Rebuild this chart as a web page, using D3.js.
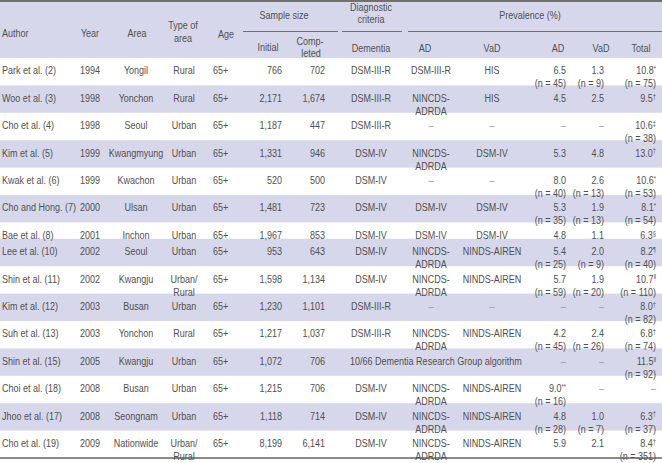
<!DOCTYPE html>
<html lang="en">
<head>
<meta charset="UTF-8">
<title>Prevalence of dementia in Korea</title>
<script src="https://d3js.org/d3.v7.min.js"></script>
<style>
    body { margin: 0; background: #fff; }
    svg text {
        font-family: "Liberation Sans Narrow", "Liberation Sans", Arial, sans-serif;
        font-size: 11px;
        fill: #505050;
    }
    svg text.dash { fill: #9a9a9a; }
</style>
</head>
<body>
<svg id="tbl"></svg>
<script>
    const width = 662, height = 463;

    // table contents, one array per column
    const authors = ["Park et al. (2)", "Woo et al. (3)", "Cho et al. (4)", "Kim et al. (5)", "Kwak et al. (6)",
        "Cho and  Hong. (7)", "Bae et al. (8)", "Lee et al. (10)", "Shin et al.  (11)", "Kim et al. (12)",
        "Suh et al. (13)", "Shin et al. (15)", "Choi et al.  (18)", "Jhoo et al. (17)", "Cho et al. (19)"];
    const years = [1994, 1998, 1998, 1999, 1999, 2000, 2001, 2002, 2002, 2003, 2003, 2005, 2008, 2008, 2009];
    const areas = ["Yongil", "Yonchon", "Seoul", "Kwangmyung", "Kwachon", "Ulsan", "Inchon", "Seoul", "Kwangju",
        "Busan", "Yonchon", "Kwangju", "Busan", "Seongnam", "Nationwide"];
    const areaTypes = ["Rural", "Rural", "Urban", "Urban", "Urban", "Urban", "Urban", "Urban", "Urban/\nRural",
        "Urban", "Rural", "Urban", "Urban", "Urban", "Urban/\nRural"];
    const ages = ["65+", "65+", "65+", "65+", "65+", "65+", "65+", "65+", "65+", "65+", "65+", "65+", "65+", "65+", "65+"];
    const initialN = [766, 2171, 1187, 1331, 520, 1481, 1967, 953, 1598, 1230, 1217, 1072, 1215, 1118, 8199];
    const completedN = [702, 1674, 447, 946, 500, 723, 853, 643, 1134, 1101, 1037, 706, 706, 714, 6141];
    const dementiaCrit = ["DSM-III-R", "DSM-III-R", "DSM-III-R", "DSM-IV", "DSM-IV", "DSM-IV", "DSM-IV", "DSM-IV",
        "DSM-IV", "DSM-III-R", "DSM-III-R", "10/66 Dementia Research Group algorithm", "DSM-IV", "DSM-IV", "DSM-IV"];
    const adCrit = ["DSM-III-R", "NINCDS-\nADRDA", "–", "NINCDS-\nADRDA", "–", "DSM-IV", "DSM-IV", "NINCDS-\nADRDA",
        "NINCDS-\nADRDA", "–", "NINCDS-\nADRDA", null, "NINCDS-\nADRDA", "NINCDS-\nADRDA", "NINCDS-\nADRDA"];
    const vadCrit = ["HIS", "HIS", "–", "DSM-IV", "–", "DSM-IV", "DSM-IV", "NINDS-AIREN", "NINDS-AIREN", "–",
        "NINDS-AIREN", null, "NINDS-AIREN", "NINDS-AIREN", "NINDS-AIREN"];
    const adPrev = [6.5, 4.5, null, 5.3, 8.0, 5.3, 4.8, 5.4, 5.7, null, 4.2, null, 9.0, 4.8, 5.9];
    const adCases = [45, null, null, null, 40, 35, null, 25, 59, null, 45, null, 16, 28, null];
    const adMarks = ["", "", "", "", "", "", "", "", "", "", "", "", "**", "", ""];
    const vadPrev = [1.3, 2.5, null, 4.8, 2.6, 1.9, 1.1, 2.0, 1.9, null, 2.4, null, null, 1.0, 2.1];
    const vadCases = [9, null, null, null, 13, 13, null, 9, 20, null, 26, null, null, 7, null];
    const totalPrev = [10.8, 9.5, 10.6, 13.0, 10.6, 8.1, 6.3, 8.2, 10.7, 8.0, 6.8, 11.5, null, 6.3, 8.4];
    const totalCases = [75, null, 38, null, 53, 54, null, 40, 110, 82, 74, 92, null, 37, 351];
    const totalMarks = ["*", "†", "‡", "†", "*", "*", "§", "¶", "‖", "†", "†", "‖", "", "†", "†"];

    const fmtN = d3.format(","), fmtP = d3.format(".1f");
    const dash = "–";
    const squeeze = 0.82; // the original face is a condensed one

    // each cell: list of lines, each line {t, sup}
    function plain(s) {
        return s == null ? null : String(s).split("\n").map(t => ({ t, sup: "" }));
    }
    function prev(v, n, mark) {
        if (v == null) return [{ t: dash, sup: "" }];
        const out = [{ t: fmtP(v), sup: mark || "" }];
        if (n != null) out.push({ t: `(n = ${n})`, sup: "" });
        return out;
    }

    const rows = authors.map((a, i) => ({
        band: i % 2 === 1,
        cells: {
            author: plain(a),
            year: plain(years[i]),
            area: plain(areas[i]),
            type: plain(areaTypes[i]),
            age: plain(ages[i]),
            initial: plain(fmtN(initialN[i])),
            completed: plain(fmtN(completedN[i])),
            dementia: plain(dementiaCrit[i]),
            adCrit: plain(adCrit[i]),
            vadCrit: plain(vadCrit[i]),
            adPrev: prev(adPrev[i], adCases[i], adMarks[i]),
            vadPrev: prev(vadPrev[i], vadCases[i], ""),
            total: prev(totalPrev[i], totalCases[i], totalMarks[i])
        },
        span: adCrit[i] == null && vadCrit[i] == null
    }));
    rows.forEach(r => r.lines = d3.max(Object.values(r.cells), c => c ? c.length : 0));

    const cols = {
        author: { x: 2, anchor: "start" },
        year: { x: 90, anchor: "middle" },
        area: { x: 136, anchor: "middle" },
        type: { x: 184, anchor: "middle" },
        age: { x: 213, anchor: "start" },
        initial: { x: 282, anchor: "end" },
        completed: { x: 325, anchor: "end" },
        dementia: { x: 371, anchor: "middle" },
        adCrit: { x: 431, anchor: "middle" },
        vadCrit: { x: 492, anchor: "middle" },
        adPrev: { x: 566, anchor: "end" },
        vadPrev: { x: 604, anchor: "end" },
        total: { x: 656, anchor: "end" }
    };

    const headTop = 0, headBottom = 58, tableBottom = 458;
    const rowH = d3.scaleLinear().domain([1, 2]).range([16.4, 27.4]);
    let yAcc = headBottom;
    rows.forEach(r => { r.y = yAcc; r.h = rowH(r.lines); yAcc += r.h; });

    const bandFill = "#d7d7eb";
    const svg = d3.select("#tbl").attr("width", width).attr("height", height);

    function label(g, s, x, y, anchor, sup) {
        const t = g.append("text")
            .attr("class", s === dash ? "dash" : null)
            .attr("transform", `translate(${x},${y}) scale(${squeeze},1)`)
            .attr("dy", "0.35em")
            .attr("text-anchor", anchor);
        t.append("tspan").text(s);
        if (sup) t.append("tspan").attr("dy", "-0.45em").style("font-size", "7px").text(sup);
        return t;
    }

    // header
    svg.append("rect").attr("x", 0).attr("y", headTop).attr("width", width).attr("height", headBottom - headTop)
        .attr("fill", bandFill);

    // body bands
    svg.selectAll(".band").data(rows.filter(r => r.band)).enter().append("rect")
        .attr("x", 0).attr("y", d => d.y).attr("width", width).attr("height", d => d.h)
        .attr("fill", bandFill);

    // rules
    svg.append("line").attr("x1", 0).attr("x2", width).attr("y1", 1).attr("y2", 1)
        .attr("stroke", "#707070").attr("stroke-width", 2);
    svg.append("line").attr("x1", 0).attr("x2", width).attr("y1", tableBottom).attr("y2", tableBottom)
        .attr("stroke", "#8a8a8a").attr("stroke-width", 2);
    const groupRules = [[243, 338], [342, 402], [408, 662]];
    svg.selectAll(".grule").data(groupRules).enter().append("line")
        .attr("x1", d => d[0]).attr("x2", d => d[1]).attr("y1", 31.5).attr("y2", 31.5)
        .attr("stroke", "#707070").attr("stroke-width", 1);

    // header labels
    const headLabels = [
        { t: "Author", x: 2, y: 33, a: "start" },
        { t: "Year", x: 90, y: 33, a: "middle" },
        { t: "Area", x: 137, y: 33, a: "middle" },
        { t: "Type of", x: 183, y: 25, a: "middle" },
        { t: "area", x: 183, y: 38, a: "middle" },
        { t: "Age", x: 226, y: 34, a: "middle" },
        { t: "Sample size", x: 284, y: 15, a: "middle" },
        { t: "Initial", x: 268, y: 47, a: "middle" },
        { t: "Comp-", x: 310, y: 41, a: "middle" },
        { t: "leted", x: 311, y: 53, a: "middle" },
        { t: "Diagnostic", x: 371, y: 7, a: "middle" },
        { t: "criteria", x: 371, y: 19, a: "middle" },
        { t: "Dementia", x: 371, y: 48, a: "middle" },
        { t: "Prevalence (%)", x: 530, y: 15, a: "middle" },
        { t: "AD", x: 425, y: 48, a: "middle" },
        { t: "VaD", x: 492, y: 48, a: "middle" },
        { t: "AD", x: 558, y: 48, a: "middle" },
        { t: "VaD", x: 601, y: 48, a: "middle" },
        { t: "Total", x: 641, y: 48, a: "middle" }
    ];
    const head = svg.append("g");
    headLabels.forEach(d => label(head, d.t, d.x, d.y, d.a));

    // body cells
    const lineGap = 13, firstLine = 12.5;
    const body = svg.append("g");
    rows.forEach(r => {
        Object.keys(cols).forEach(k => {
            const cell = r.cells[k];
            if (!cell) return;
            let x = cols[k].x, anchor = cols[k].anchor;
            if (k === "dementia" && r.span) { x = 350; anchor = "start"; }
            cell.forEach((ln, j) => label(body, ln.t, x, r.y + firstLine + j * lineGap, anchor, ln.sup));
        });
    });
</script>
</body>
</html>
